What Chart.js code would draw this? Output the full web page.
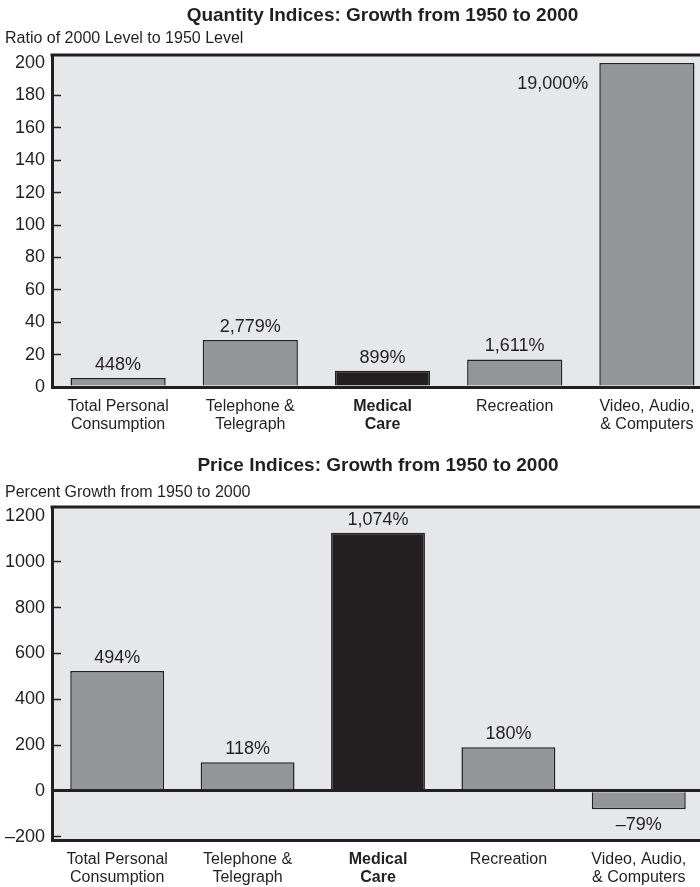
<!DOCTYPE html>
<html>
<head>
<meta charset="utf-8">
<script src="https://cdn.jsdelivr.net/npm/chart.js@4"></script>
<style>
  html, body { margin: 0; padding: 0; background: #fff; overflow: hidden; }
  canvas { display: block; }
</style>
</head>
<body>
<canvas id="quantity-chart" width="713" height="445"></canvas>
<canvas id="price-chart" width="704" height="442"></canvas>
<script>
// Categories (shared by both panels)
const categories = [
    ['Total Personal', 'Consumption'],
    ['Telephone &', 'Telegraph'],
    ['Medical', 'Care'],
    ['Recreation'],
    ['Video, Audio,', '& Computers']
];
const highlightIndex = 2;

// Quantity panel: ratio of 2000 level to 1950 level
const quantityValues = [5.5, 29, 10, 17, 200];
const quantityLabels = ['448%', '2,779%', '899%', '1,611%', '19,000%'];

// Price panel: percent growth from 1950 to 2000
const priceValues = [523, 125, 1127, 190, -81];
const priceLabels = ['494%', '118%', '1,074%', '180%', '\u201379%'];

const fontFamily = '"Liberation Sans", Arial, Helvetica, sans-serif';
const inkColor = '#231f20';
const barColor = '#939598';
const plotColor = '#e6e7e8';

// Plot background and top frame line
const plotFrame = {
    id: 'plotFrame',
    beforeDraw(chart) {
        const {ctx, chartArea: a} = chart;
        ctx.save();
        ctx.fillStyle = plotColor;
        ctx.fillRect(a.left, a.top, a.right - a.left, a.bottom - a.top);
        ctx.restore();
    },
    afterDraw(chart) {
        const {ctx, chartArea: a} = chart;
        ctx.save();
        ctx.strokeStyle = inkColor;
        ctx.lineWidth = 3;
        ctx.beginPath();
        ctx.moveTo(a.left - 1.5, a.top);
        ctx.lineTo(a.right, a.top);
        ctx.stroke();
        ctx.restore();
    }
};

// Percent labels next to each bar
const valueLabels = {
    id: 'valueLabels',
    afterDatasetsDraw(chart, args, opts) {
        const {ctx, chartArea} = chart;
        const meta = chart.getDatasetMeta(0);
        const values = chart.data.datasets[0].data;
        ctx.save();
        ctx.font = '18px ' + fontFamily;
        ctx.fillStyle = inkColor;
        ctx.textBaseline = 'alphabetic';
        meta.data.forEach((bar, i) => {
            const text = opts.labels[i];
            if (values[i] < 0) {
                ctx.textAlign = 'center';
                ctx.fillText(text, bar.x, bar.y + 21);
            } else if (bar.y - 22 < chartArea.top) {
                // no room above: put it beside the bar
                ctx.textAlign = 'right';
                ctx.fillText(text, bar.x - bar.width / 2 - 11, bar.y + 26);
            } else {
                ctx.textAlign = 'center';
                ctx.fillText(text, bar.x, bar.y - 8);
            }
        });
        ctx.restore();
    }
};

function barChartConfig(title, caption, values, labels, yMin, yMax, yStep, pad) {
    const data = {
        labels: categories,
        datasets: [
            {
                data: values,
                backgroundColor: values.map((v, i) => i === highlightIndex ? inkColor : barColor),
                borderColor: inkColor,
                borderWidth: 1.5,
                barPercentage: 0.72,
                categoryPercentage: 1
            }
        ]
    };

    const topTick = Math.floor(yMax / yStep) * yStep;

    const config = {
        type: 'bar',
        data: data,
        plugins: [plotFrame, valueLabels],
        options: {
            responsive: false,
            animation: false,
            layout: {
                padding: {left: 5, right: 0, top: 0, bottom: 0}
            },
            plugins: {
                legend: {display: false},
                tooltip: {enabled: false},
                title: {
                    display: true,
                    text: title,
                    fullSize: false,
                    color: inkColor,
                    font: {family: fontFamily, size: 19, weight: 'bold', lineHeight: 1.2},
                    padding: {top: pad.titleTop, bottom: 0}
                },
                subtitle: {
                    display: true,
                    text: caption,
                    align: 'start',
                    color: inkColor,
                    font: {family: fontFamily, size: 16, lineHeight: 1.2},
                    padding: {top: pad.captionTop, bottom: pad.captionBottom}
                },
                valueLabels: {labels: labels}
            },
            scales: {
                x: {
                    z: 1,
                    grid: {display: false, drawTicks: false},
                    border: {display: true, color: inkColor, width: 3},
                    ticks: {
                        color: inkColor,
                        padding: 11,
                        autoSkip: false,
                        maxRotation: 0,
                        font: (ctx) => ({
                            family: fontFamily,
                            size: 16,
                            lineHeight: 1.1,
                            weight: ctx.index === highlightIndex ? 'bold' : 'normal'
                        })
                    },
                    afterFit: (scale) => { scale.height = pad.xHeight; }
                },
                y: {
                    z: 1,
                    min: yMin,
                    max: yMax,
                    border: {display: true, color: inkColor, width: 3},
                    grid: {
                        drawOnChartArea: true,
                        color: (ctx) => (ctx.tick && ctx.tick.value === 0) ? inkColor : 'rgba(0,0,0,0)',
                        lineWidth: 3,
                        tickLength: -9,
                        tickWidth: 1.5,
                        tickColor: (ctx) => (ctx.tick && ctx.tick.value === topTick) ? 'rgba(0,0,0,0)' : inkColor
                    },
                    ticks: {
                        autoSkip: false,
                        padding: 16,
                        color: inkColor,
                        font: {family: fontFamily, size: 18},
                        callback: (v) => v < 0 ? '\u2013' + Math.abs(v) : String(v)
                    },
                    afterBuildTicks: (scale) => {
                        const ticks = [];
                        for (let v = Math.ceil(yMin / yStep) * yStep; v <= yMax; v += yStep) {
                            ticks.push({value: v});
                        }
                        scale.ticks = ticks;
                    },
                    afterFit: (scale) => { scale.width = 47; }
                }
            }
        }
    };
    return config;
}

const ctxQuantity = document.getElementById('quantity-chart');
new Chart(ctxQuantity, barChartConfig(
    'Quantity Indices: Growth from 1950 to 2000',
    'Ratio of 2000 Level to 1950 Level',
    quantityValues, quantityLabels, 0, 205, 20,
    {titleTop: 4, captionTop: 2, captionBottom: 7, xHeight: 58}
));

const ctxPrice = document.getElementById('price-chart');
new Chart(ctxPrice, barChartConfig(
    'Price Indices: Growth from 1950 to 2000',
    'Percent Growth from 1950 to 2000',
    priceValues, priceLabels, -215, 1240, 200,
    {titleTop: 9, captionTop: 6, captionBottom: 5, xHeight: 47}
));
</script>
</body>
</html>
